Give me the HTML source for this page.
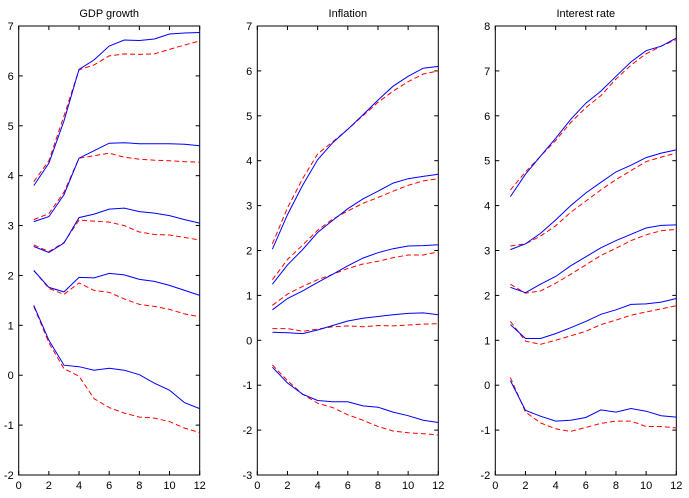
<!DOCTYPE html>
<html><head><meta charset="utf-8"><style>
html,body{margin:0;padding:0;background:#fff;width:689px;height:498px;overflow:hidden}
svg text{font-family:"Liberation Sans",Arial,sans-serif;font-size:11px;fill:#000}
</style></head><body>
<svg id="chart" width="689" height="498" viewBox="0 0 689 498" xmlns="http://www.w3.org/2000/svg"></svg>
<script>
const periods=[1,2,3,4,5,6,7,8,9,10,11,12];
const xTicks=[0,2,4,6,8,10,12];
const titles=["GDP growth","Inflation","Interest rate"];
const yRanges=[[-2,7],[-3,7],[-2,8]];
// GDP growth
const gdpBlue=[
[3.8,4.25,5.1,6.13,6.32,6.6,6.72,6.71,6.74,6.84,6.86,6.87],
[3.08,3.18,3.62,4.35,4.5,4.65,4.66,4.64,4.64,4.64,4.63,4.6],
[2.58,2.46,2.65,3.16,3.23,3.33,3.35,3.28,3.25,3.2,3.12,3.05],
[2.1,1.76,1.67,1.96,1.95,2.04,2.01,1.92,1.88,1.8,1.7,1.6],
[1.4,0.7,0.2,0.17,0.1,0.14,0.1,0.01,-0.16,-0.3,-0.55,-0.67]];
const gdpRed=[
[3.88,4.3,5.2,6.12,6.22,6.4,6.44,6.43,6.44,6.53,6.62,6.7],
[3.12,3.24,3.67,4.35,4.4,4.45,4.37,4.33,4.31,4.3,4.28,4.27],
[2.61,2.48,2.66,3.11,3.09,3.07,3.0,2.87,2.82,2.81,2.76,2.71],
[2.1,1.74,1.62,1.85,1.7,1.66,1.53,1.42,1.38,1.32,1.23,1.17],
[1.38,0.65,0.13,-0.02,-0.47,-0.65,-0.76,-0.84,-0.86,-0.93,-1.06,-1.15]];
// Inflation
const infBlue=[
[2.03,2.8,3.45,4.02,4.4,4.7,5.02,5.35,5.66,5.88,6.06,6.1],
[1.25,1.68,2.02,2.4,2.67,2.93,3.15,3.32,3.5,3.6,3.65,3.7],
[0.68,0.93,1.1,1.29,1.47,1.66,1.83,1.95,2.04,2.1,2.11,2.13],
[0.18,0.17,0.15,0.23,0.33,0.43,0.49,0.53,0.57,0.6,0.61,0.57],
[-0.6,-0.95,-1.2,-1.34,-1.37,-1.37,-1.46,-1.49,-1.6,-1.68,-1.78,-1.83]];
const infRed=[
[2.15,2.95,3.6,4.15,4.42,4.7,5.0,5.3,5.55,5.76,5.93,6.0],
[1.35,1.8,2.12,2.45,2.7,2.88,3.05,3.18,3.32,3.45,3.55,3.6],
[0.78,1.03,1.2,1.35,1.47,1.6,1.7,1.76,1.84,1.9,1.9,1.97],
[0.26,0.26,0.2,0.25,0.3,0.32,0.3,0.33,0.32,0.34,0.36,0.37],
[-0.55,-0.9,-1.2,-1.4,-1.5,-1.66,-1.78,-1.92,-2.02,-2.06,-2.08,-2.11]];
// Interest rate
const irBlue=[
[4.2,4.7,5.1,5.5,5.92,6.28,6.55,6.88,7.2,7.45,7.55,7.73],
[3.02,3.15,3.38,3.68,4.0,4.28,4.52,4.75,4.9,5.07,5.17,5.24],
[2.18,2.06,2.25,2.42,2.66,2.86,3.06,3.22,3.36,3.5,3.56,3.57],
[1.35,1.04,1.04,1.15,1.28,1.42,1.58,1.68,1.8,1.81,1.85,1.93],
[0.1,-0.56,-0.69,-0.8,-0.78,-0.72,-0.55,-0.6,-0.52,-0.58,-0.68,-0.71]];
const irRed=[
[4.35,4.75,5.1,5.45,5.85,6.18,6.45,6.82,7.13,7.38,7.55,7.7],
[3.1,3.15,3.32,3.55,3.85,4.1,4.35,4.58,4.78,4.98,5.08,5.17],
[2.25,2.05,2.1,2.27,2.47,2.68,2.89,3.05,3.22,3.35,3.44,3.47],
[1.42,0.98,0.91,1.0,1.1,1.2,1.35,1.45,1.56,1.63,1.7,1.77],
[0.17,-0.6,-0.84,-0.97,-1.03,-0.94,-0.85,-0.8,-0.8,-0.92,-0.92,-0.95]];

const blues=[gdpBlue,infBlue,irBlue];
const reds=[gdpRed,infRed,irRed];
const lefts=[18.7,257.3,495.3], W=181, TOP=26, BOT=475;
const NS="http://www.w3.org/2000/svg";
const svg=document.getElementById('chart');
function mk(tag,attrs,parent){const e=document.createElementNS(NS,tag);for(const k in attrs)e.setAttribute(k,attrs[k]);(parent||svg).appendChild(e);return e;}

for(let p=0;p<3;p++){
  const L=lefts[p],R=L+W,[ymin,ymax]=yRanges[p];
  const xs=v=>L+v/12*W;
  const ys=v=>BOT-(v-ymin)/(ymax-ymin)*(BOT-TOP);
  const g=mk('g',{});
  
  
  const t=mk('text',{x:(L+R)/2,y:17,'text-anchor':'middle'},g);
  t.textContent=titles[p];
  
  
  const box=mk('rect',{x:L,y:TOP,width:W,height:BOT-TOP,fill:'none',stroke:'#000','stroke-width':1},g);
  
  
  for(const v of xTicks){
    const x=xs(v);
    mk('line',{x1:x,y1:BOT,x2:x,y2:BOT-4,stroke:'#000'},g);
    mk('line',{x1:x,y1:TOP,x2:x,y2:TOP+4,stroke:'#000'},g);
    const lt=mk('text',{x:x,y:BOT+14,'text-anchor':'middle'},g);
    lt.textContent=v;
    
    
  }
  for(let v=ymin;v<=ymax;v++){
    const y=ys(v);
    mk('line',{x1:L,y1:y,x2:L+4,y2:y,stroke:'#000'},g);
    mk('line',{x1:R,y1:y,x2:R-4,y2:y,stroke:'#000'},g);
    const lt=mk('text',{x:L-5,y:y+4,'text-anchor':'end'},g);
    lt.textContent=v;
    
    
  }
  const draw=(arr,color,dash,name)=>arr.forEach((s,i)=>{
    const d=s.map((v,j)=>(j?'L':'M')+xs(periods[j]).toFixed(1)+','+ys(v).toFixed(1)).join('');
    const a={d:d,fill:'none',stroke:color,'stroke-width':1};
    if(dash)a['stroke-dasharray']=dash;
    const pth=mk('path',a,g);
    
    
  });
  draw(reds[p],'#ff0000','5,3','red-dashed-series');
  draw(blues[p],'#0000ff',null,'blue-solid-series');
}
</script>
</body></html>
